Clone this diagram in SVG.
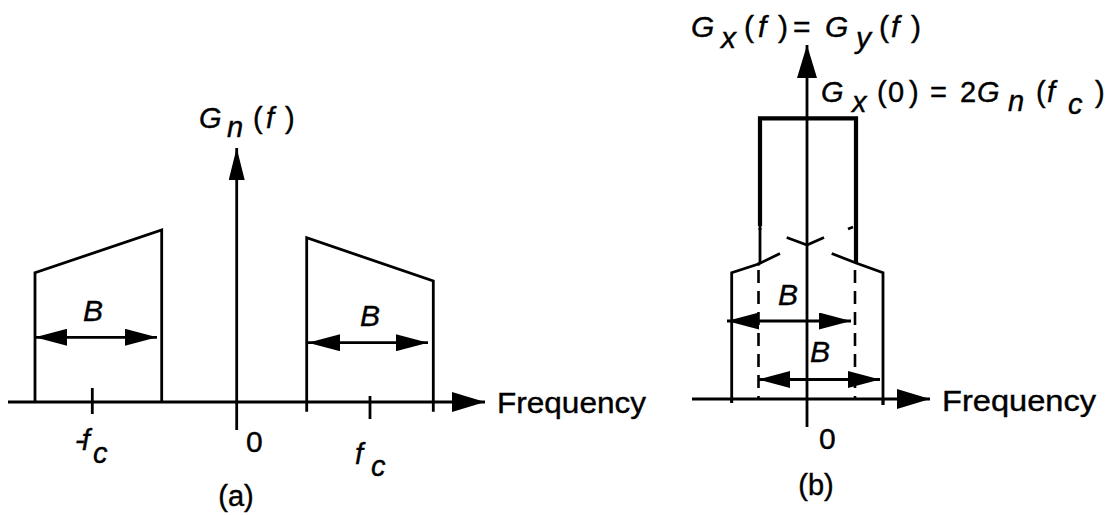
<svg xmlns="http://www.w3.org/2000/svg" width="1113" height="515" viewBox="0 0 1113 515">
<style>
.ln{fill:none;stroke:#000;stroke-width:2.8;stroke-linecap:butt;stroke-linejoin:miter}
.thk{fill:none;stroke:#000;stroke-width:4.2}
.dsh{fill:none;stroke:#000;stroke-width:2.6;stroke-dasharray:13 8}
.t{font-family:"Liberation Sans",Arial,sans-serif;fill:#000;stroke:#000;stroke-width:0.4}
.it{font-style:italic}
</style>
<defs>
<marker id="ax" markerUnits="userSpaceOnUse" markerWidth="33" markerHeight="20" viewBox="0 0 33 20" refX="33" refY="10" orient="auto"><path d="M0,0 L33,10 L0,20 Z" fill="#000"/></marker>
<marker id="axN" markerUnits="userSpaceOnUse" markerWidth="32" markerHeight="16" viewBox="0 0 32 16" refX="32" refY="8" orient="auto"><path d="M0,0 L32,8 L0,16 Z" fill="#000"/></marker>
<marker id="dim" markerUnits="userSpaceOnUse" markerWidth="32" markerHeight="17" viewBox="0 0 32 17" refX="32" refY="8.5" orient="auto-start-reverse"><path d="M0,0 L32,8.5 L0,17 Z" fill="#000"/></marker>
</defs>

<g id="panel-a">
  <g id="a-axes">
    <line class="ln" x1="8" y1="402" x2="485" y2="402" marker-end="url(#ax)"/>
    <line class="ln" x1="236.7" y1="430" x2="236.7" y2="148" marker-end="url(#axN)"/>
    <line class="ln" x1="92.3" y1="388" x2="92.3" y2="414"/>
    <line class="ln" x1="370" y1="396" x2="370" y2="419"/>
  </g>
  <g id="a-left-band">
    <polyline class="ln" points="35,402 35,272.7 161.7,230 161.7,402"/>
  </g>
  <g id="a-right-band">
    <polyline class="ln" points="306.7,411.7 306.7,237.7 433.3,281 433.3,411.7"/>
  </g>
  <g id="a-dims">
    <line class="ln" x1="35" y1="337.3" x2="157" y2="337.3" marker-start="url(#dim)" marker-end="url(#dim)"/>
    <line class="ln" x1="308" y1="342.7" x2="428" y2="342.7" marker-start="url(#dim)" marker-end="url(#dim)"/>
  </g>
  <g id="a-labels">
    <text class="t" font-size="29"><tspan class="it" x="199" y="128">G</tspan><tspan class="it" x="227" y="137">n</tspan><tspan x="253" y="128">(</tspan><tspan class="it" x="266" y="128">f</tspan><tspan x="285" y="128">)</tspan></text>
    <text class="t it" font-size="30" x="83" y="321">B</text>
    <text class="t it" font-size="30" x="360" y="326">B</text>
    <text class="t it" font-size="29"><tspan x="75" y="450" letter-spacing="-3">-f</tspan><tspan x="93" y="463">c</tspan></text>
    <text class="t" font-size="30" x="246" y="452">0</text>
    <text class="t it" font-size="29"><tspan x="355" y="464">f</tspan><tspan x="371" y="476">c</tspan></text>
    <text class="t" font-size="30" x="497" y="413" textLength="149" lengthAdjust="spacingAndGlyphs">Frequency</text>
    <text class="t" font-size="29" x="236" y="506" text-anchor="middle">(a)</text>
  </g>
</g>

<g id="panel-b">
  <g id="b-axes">
    <line class="ln" x1="692" y1="399" x2="930" y2="399" marker-end="url(#ax)"/>
    <line class="ln" x1="807" y1="427" x2="807" y2="45" marker-end="url(#ax)"/>
    <line class="ln" x1="731.7" y1="399" x2="731.7" y2="403"/>
    <line class="ln" x1="883" y1="399" x2="883" y2="405"/>
  </g>
  <g id="b-sum-spectrum">
    <polyline class="thk" points="760,226 760,118.3 856,118.3 856,263"/>
  </g>
  <g id="b-shifted-spectra">
    <line class="ln" x1="760" y1="226" x2="760" y2="264"/>
    <circle cx="760" cy="229" r="1.6" fill="#000"/>
    <polyline class="ln" points="731.7,403 731.7,272.7 758.5,264 780,253.5"/>
    <circle cx="758.5" cy="264" r="1.8" fill="#000"/>
    <polyline class="ln" points="786.7,237.5 807,245 824,237.5"/>
    <polyline class="ln" points="831.7,253.5 856,263 883,272.7 883,405"/>
    <line class="ln" x1="848" y1="229" x2="853" y2="227"/>
    <line class="dsh" x1="758.5" y1="270" x2="758.5" y2="399"/>
    <line class="dsh" x1="855" y1="270" x2="855" y2="399"/>
  </g>
  <g id="b-dims">
    <line class="ln" x1="727" y1="321" x2="851" y2="321" marker-start="url(#dim)" marker-end="url(#dim)"/>
    <line class="ln" x1="758.3" y1="379.5" x2="880" y2="379.5" marker-start="url(#dim)" marker-end="url(#dim)"/>
  </g>
  <g id="b-labels">
    <text class="t" font-size="30"><tspan class="it" x="691" y="37">G</tspan><tspan class="it" x="721" y="48">x</tspan><tspan x="744" y="37">(</tspan><tspan class="it" x="758" y="37">f</tspan><tspan x="778" y="37">)</tspan><tspan x="793" y="37">=</tspan><tspan class="it" x="825" y="37">G</tspan><tspan class="it" x="856" y="48">y</tspan><tspan x="879" y="37">(</tspan><tspan class="it" x="891" y="37">f</tspan><tspan x="911" y="37">)</tspan></text>
    <text class="t" font-size="29"><tspan class="it" x="821" y="102">G</tspan><tspan class="it" x="852" y="112">x</tspan><tspan x="877" y="102">(</tspan><tspan x="888" y="102">0</tspan><tspan x="909" y="102">)</tspan><tspan x="930" y="102">=</tspan><tspan x="960" y="102">2</tspan><tspan class="it" x="977" y="102">G</tspan><tspan class="it" x="1008" y="111">n</tspan><tspan x="1036" y="102">(</tspan><tspan class="it" x="1047" y="102">f</tspan><tspan class="it" x="1068" y="114">c</tspan><tspan x="1095" y="102">)</tspan></text>
    <text class="t it" font-size="30" x="778" y="305">B</text>
    <text class="t it" font-size="30" x="810" y="362">B</text>
    <text class="t" font-size="30" x="819" y="449">0</text>
    <text class="t" font-size="30" x="942" y="411" textLength="154" lengthAdjust="spacingAndGlyphs">Frequency</text>
    <text class="t" font-size="29" x="816" y="495" text-anchor="middle">(b)</text>
  </g>
</g>
</svg>
